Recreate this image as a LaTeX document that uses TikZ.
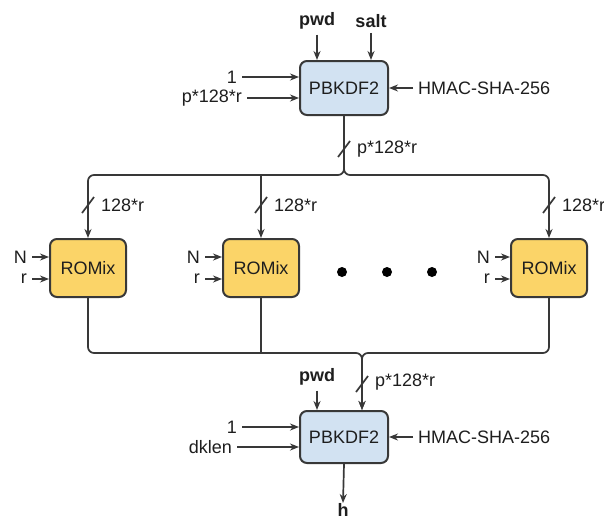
\documentclass[tikz,border=0pt]{standalone}
\usepackage{fontspec}
\setmainfont{Liberation Sans}
\usetikzlibrary{arrows.meta,calc}
\definecolor{boxblue}{HTML}{D2E2F2}
\definecolor{boxyellow}{HTML}{FBD468}
\definecolor{edge}{HTML}{383838}
\definecolor{txt}{HTML}{1E1E1E}
\tikzset{
  lbl/.style={text=txt,inner sep=5pt,font=\fontsize{18}{20}\selectfont},
  blbl/.style={lbl,font=\fontsize{18}{20}\selectfont\bfseries},
  pbbox/.style={draw=edge,line width=2pt,fill=boxblue,rounded corners=7pt,
    minimum width=88pt,minimum height=54pt,inner sep=0pt,text=txt,font=\fontsize{18}{20}\selectfont},
  rmbox/.style={draw=edge,line width=2pt,fill=boxyellow,rounded corners=7pt,
    minimum width=76pt,minimum height=58pt,inner sep=0pt,text=txt,font=\fontsize{18}{20}\selectfont},
  wire/.style={draw=edge,line width=1.7pt},
  arr/.style={wire,-{Stealth[length=9pt,width=7pt]}},
  slashmark/.style={draw=edge,line width=1.7pt},
  dotmark/.style={circle,fill=black,inner sep=0pt,minimum size=10pt},
}
\begin{document}
\begin{tikzpicture}[x=1pt,y=-1pt]
\useasboundingbox (0,0) rectangle (604,519);
\fill[white] (0,0) rectangle (604,519);

% top PBKDF2
\node[pbbox] (pb1) at (344,88) {PBKDF2};
\node[blbl] (pwd1) at (317,21) {pwd};
\node[blbl] (salt) at (371,21) {salt};
\node[lbl,anchor=east] (one1) at (242,77) {1};
\node[lbl,anchor=east] (len1) at (247,98) {p*128*r};
\node[lbl,anchor=west] (hm1) at (413,88) {HMAC-SHA-256};
\draw[arr] (pwd1.south) -- (pwd1.south |- pb1.north);
\draw[arr] (salt.south) -- (salt.south |- pb1.north);
\draw[arr] (one1.east) -- (one1.east -| pb1.west);
\draw[arr] (len1.east) -- (len1.east -| pb1.west);
\draw[arr] (hm1.west) -- (hm1.west -| pb1.east);

% ROMix boxes
\node[rmbox] (rm1) at (88,268) {ROMix};
\node[rmbox] (rm2) at (261,268) {ROMix};
\node[rmbox] (rm3) at (549,268) {ROMix};
\foreach \b/\x in {rm1/27,rm2/200,rm3/490}{
  \node[lbl,anchor=east] (N\b) at (\x+5,257) {N};
  \node[lbl,anchor=east] (r\b) at (\x+5,279) {r};
  \draw[arr] (N\b.east) -- (N\b.east -| \b.west);
  \draw[arr] (r\b.east) -- (r\b.east -| \b.west);
}
\node[dotmark] (d1) at (342,272) {};
\node[dotmark] (d2) at (387,272) {};
\node[dotmark] (d3) at (432,272) {};

% distribution bus
\coordinate (jt) at (pb1.south |- 0,175);
\draw[arr,rounded corners=6pt] (pb1.south) -- (jt) -- (jt -| rm1.north) -- (rm1.north);
\draw[arr,rounded corners=6pt] (pb1.south) -- (jt) -- (jt -| rm3.north) -- (rm3.north);
\draw[arr] (jt -| rm2.north) -- (rm2.north);
\coordinate (s0) at ($(pb1.south)+(0,33)$);
\draw[slashmark] ($(s0)+(-6,8)$) -- ($(s0)+(6,-8)$);
\node[lbl,anchor=west] (l0) at ($(s0)+(8,0)$) {p*128*r};
\foreach \b/\i in {rm1/1,rm2/2,rm3/3}{
  \coordinate (s\i) at (\b.north |- 0,205);
  \draw[slashmark] ($(s\i)+(-6,8)$) -- ($(s\i)+(6,-8)$);
  \node[lbl,anchor=west] (l\i) at ($(s\i)+(8,0)$) {128*r};
}

% bottom PBKDF2
\node[pbbox,minimum height=52pt] (pb2) at (344,437) {PBKDF2};
\coordinate (jb) at (362,353);
\coordinate (jin) at (jb |- pb2.north);
\draw[arr,rounded corners=6pt] (rm1.south) -- (rm1.south |- jb) -- (jb) -- (jin);
\draw[arr,rounded corners=6pt] (rm3.south) -- (rm3.south |- jb) -- (jb) -- (jin);
\draw[wire] (rm2.south) -- (rm2.south |- jb);
\coordinate (s4) at (362,384);
\draw[slashmark] ($(s4)+(-6,8)$) -- ($(s4)+(6,-8)$);
\node[lbl,anchor=west] (l4) at ($(s4)+(8,-2)$) {p*128*r};
\node[blbl] (pwd2) at (317,377) {pwd};
\draw[arr] (pwd2.south) -- (pwd2.south |- pb2.north);
\node[lbl,anchor=east] (one2) at (242,427) {1};
\node[lbl,anchor=east] (dk) at (237,447) {dklen};
\draw[arr] (one2.east) -- (one2.east -| pb2.west);
\draw[arr] (dk.east) -- (dk.east -| pb2.west);
\node[lbl,anchor=west] (hm2) at (413,437) {HMAC-SHA-256};
\draw[arr] (hm2.west) -- (hm2.west -| pb2.east);
\node[blbl,anchor=north,inner sep=0pt] (h) at (343,503) {h};
\draw[arr] (pb2.south) -- (h.north);
\end{tikzpicture}
\end{document}
